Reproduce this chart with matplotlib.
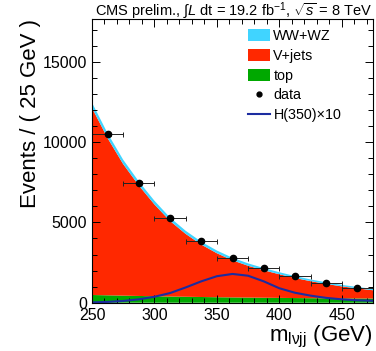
import matplotlib
matplotlib.use('Agg')
import matplotlib.pyplot as plt
from matplotlib.patches import Patch
from matplotlib.lines import Line2D
from matplotlib.ticker import MultipleLocator

plt.rcParams['font.family'] = ['Liberation Sans', 'DejaVu Sans']
plt.rcParams['mathtext.fontset'] = 'custom'
plt.rcParams['mathtext.rm'] = 'Liberation Sans'
plt.rcParams['mathtext.it'] = 'Liberation Sans:italic'

# background shapes, read at 12.5 GeV steps
mass = [250, 262.5, 275, 287.5, 300, 312.5, 325, 337.5, 350, 362.5,
        375, 387.5, 400, 412.5, 425, 437.5, 450, 462.5, 475]
top = [480, 460, 440, 420, 400, 385, 370, 355, 340, 330,
       320, 310, 300, 290, 280, 275, 270, 265, 260]
vjets = [11650, 9790, 8190, 6880, 5720, 4705, 3915, 3265, 2740, 2310,
         1980, 1710, 1470, 1250, 1060, 895, 745, 625, 515]
wwwz = [330, 300, 270, 250, 230, 210, 195, 180, 170, 160,
        150, 140, 130, 120, 110, 100, 95, 90, 85]
signal = [20, 50, 110, 210, 370, 600, 950, 1330, 1650, 1790,
          1680, 1330, 900, 620, 440, 300, 210, 150, 120]

# data points (bin centres, 25 GeV bins)
data_x = [262.5, 287.5, 312.5, 337.5, 362.5, 387.5, 412.5, 437.5, 462.5]
data_y = [10480, 7480, 5250, 3840, 2810, 2190, 1650, 1230, 920]
data_err = [102, 86, 72, 62, 53, 47, 41, 35, 30]
bin_half = 12.5

c_wwwz = '#40d4ff'
c_vjets = '#ff2800'
c_top = '#00a800'
c_sig = '#1c2ca0'

fig = plt.figure(figsize=(3.76, 3.51), dpi=100)
ax = fig.add_axes([92 / 376, 1 - 302.7 / 351, 281 / 376, 284.2 / 351])

ax.stackplot(mass, top, vjets, wwwz, colors=[c_top, c_vjets, c_wwwz], lw=0)
ax.plot(mass, signal, color=c_sig, lw=1.5)
ax.errorbar(data_x, data_y, xerr=bin_half, yerr=data_err, fmt='o', color='black',
            ms=4.5, ecolor='#222222', elinewidth=0.7, capsize=1.8, capthick=0.7)

ax.set_xlim(250, 475)
ax.set_ylim(0, 17700)
ax.xaxis.set_major_locator(MultipleLocator(50))
ax.xaxis.set_minor_locator(MultipleLocator(10))
ax.yaxis.set_major_locator(MultipleLocator(5000))
ax.yaxis.set_minor_locator(MultipleLocator(1000))
ax.tick_params(which='both', direction='in', top=True, right=True, labelsize=11.5)
ax.tick_params(which='major', length=6, width=0.7)
ax.tick_params(which='minor', length=3.5, width=0.7)
ax.tick_params(axis='x', pad=4)
ax.tick_params(axis='y', pad=3.5)
for sp in ax.spines.values():
    sp.set_linewidth(0.8)

ax.set_ylabel('Events / ( 25 GeV )', fontsize=16, loc='top')
ax.yaxis.set_label_coords(-0.183, 1.0)
ax.set_xlabel(r'm$_{\mathregular{l\nu jj}}$ (GeV)', fontsize=16, loc='right')
ax.xaxis.set_label_coords(1.0, -0.076)

fig.text(372 / 376, 1 - 15 / 351, r'CMS prelim., $\int$$L$ dt = 19.2 fb$^{-1}$, $\sqrt{s}$ = 8 TeV',
         ha='right', va='baseline', fontsize=10.5)

handles = [Patch(facecolor=c_wwwz, label='WW+WZ'),
           Patch(facecolor=c_vjets, label='V+jets'),
           Patch(facecolor=c_top, label='top'),
           Line2D([], [], marker='o', ls='none', color='black', ms=3.5, label='data'),
           Line2D([], [], color=c_sig, lw=1.5, label=u'H(350)\u00d710')]
ax.legend(handles=handles, loc='upper left', bbox_to_anchor=(0.554, 0.962), frameon=False,
          fontsize=10.3, borderpad=0, borderaxespad=0, handlelength=1.55, handleheight=0.9,
          handletextpad=0.25, labelspacing=0.4)

fig.savefig('out.png', dpi=100)
